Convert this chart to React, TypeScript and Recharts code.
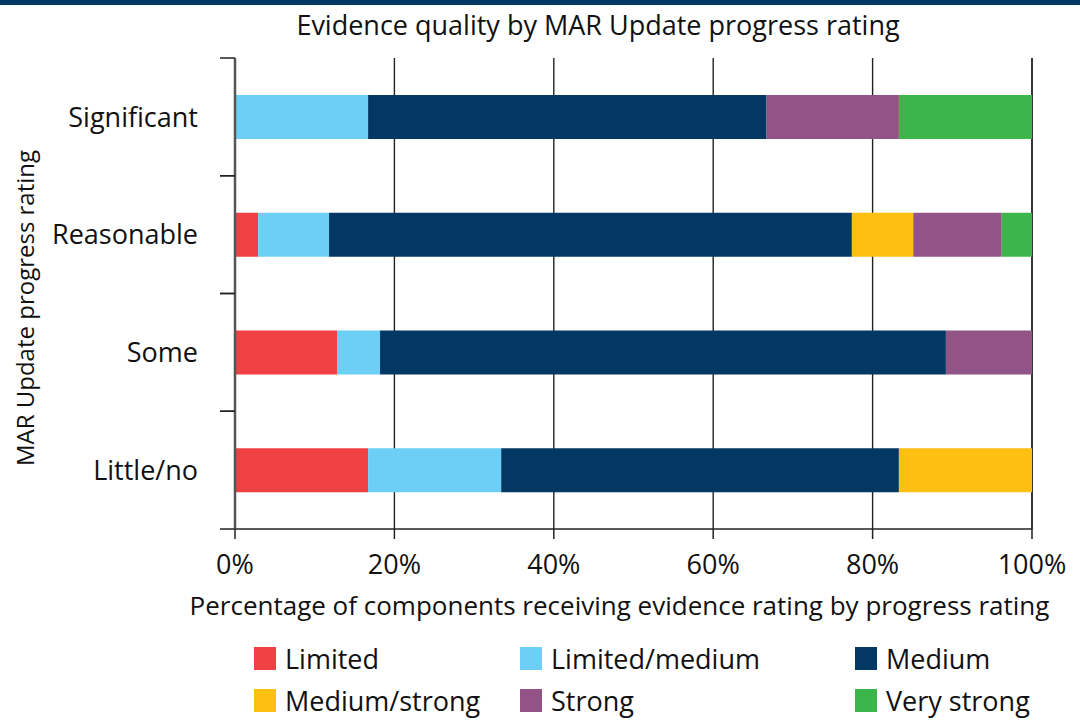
import { BarChart, Bar, XAxis, YAxis, CartesianGrid, Legend } from "recharts";

const categories = ["Significant", "Reasonable", "Some", "Little/no"];
const limited = [0, 2.9, 12.8, 16.7];
const limitedMedium = [16.7, 8.9, 5.4, 16.7];
const medium = [50.0, 65.6, 71.0, 49.9];
const mediumStrong = [0, 7.7, 0, 16.7];
const strong = [16.6, 11.1, 10.8, 0];
const veryStrong = [16.7, 3.8, 0, 0];
const xTicks = [0, 20, 40, 60, 80, 100];

const FONT = "'Open Sans', 'Noto Sans', sans-serif";

const series = [
  { key: "limited", name: "Limited", values: limited, color: "#ef4144" },
  { key: "limitedMedium", name: "Limited/medium", values: limitedMedium, color: "#6dcff6" },
  { key: "medium", name: "Medium", values: medium, color: "#043864" },
  { key: "mediumStrong", name: "Medium/strong", values: mediumStrong, color: "#fdc010" },
  { key: "strong", name: "Strong", values: strong, color: "#925487" },
  { key: "veryStrong", name: "Very strong", values: veryStrong, color: "#3cb54a" },
];

const data = categories.map((category, i) => {
  const row: Record<string, string | number> = { category };
  series.forEach((s) => (row[s.key] = s.values[i]));
  return row;
});

const TICK_SIZE = 15;
const TICK_MARGIN = 22;

// category label plus tick marks at the band edges (not the band centre)
function CategoryTick(props: any) {
  const { x, y, payload } = props;
  const half = payload?.offset ?? 0;
  const x2 = x + TICK_MARGIN + TICK_SIZE;
  const x1 = x + TICK_MARGIN;
  return (
    <g>
      <line x1={x1} x2={x2} y1={y - half} y2={y - half} stroke="#222" strokeWidth={1.5} />
      <line x1={x1} x2={x2} y1={y + half} y2={y + half} stroke="#222" strokeWidth={1.5} />
      <text x={x} y={y} dy="0.36em" textAnchor="end" fill="#111" fontSize={27} fontFamily={FONT}>
        {payload.value}
      </text>
    </g>
  );
}

function LegendGrid({ payload }: any) {
  const cols = [266, 335, 225];
  return (
    <div style={{ display: "grid", gridTemplateColumns: cols.map((c) => c + "px").join(" "), fontFamily: FONT }}>
      {(payload || []).map((p: any) => (
        <div key={p.value} style={{ display: "flex", alignItems: "center", height: 42 }}>
          <span style={{ width: 22, height: 23, background: p.color, display: "inline-block", marginRight: 9, flexShrink: 0 }} />
          <span style={{ fontSize: 27, lineHeight: "27px", color: "#111", whiteSpace: "nowrap" }}>{p.value}</span>
        </div>
      ))}
    </div>
  );
}

export default function App() {
  return (
    <div style={{ position: "absolute", left: 0, top: 0, width: 1080, height: 720, background: "#fff", overflow: "hidden", fontFamily: FONT }}>
      <div style={{ position: "absolute", left: 0, top: 0, width: 1080, height: 5, background: "#043864" }} />
      <div style={{ position: "absolute", left: 598, top: 7, transform: "translateX(-50%)", whiteSpace: "nowrap", fontSize: 27, lineHeight: "36px", color: "#111" }}>
        Evidence quality by MAR Update progress rating
      </div>
      <div style={{ position: "absolute", left: 25, top: 308, transform: "translate(-50%, -50%) rotate(-90deg)", whiteSpace: "nowrap", fontSize: 24, lineHeight: "30px", color: "#111" }}>
        MAR Update progress rating
      </div>
      <BarChart
        width={1080}
        height={720}
        data={data}
        layout="vertical"
        margin={{ top: 58, right: 48, bottom: 131, left: 20 }}
        barSize={44}
      >
        <CartesianGrid horizontal={false} stroke="#222" strokeWidth={1.4} />
        <XAxis
          type="number"
          domain={[0, 100]}
          ticks={xTicks}
          tickFormatter={(v) => v + "%"}
          height={60}
          tickSize={10}
          tickMargin={16}
          stroke="#222"
          strokeWidth={1.5}
          tick={{ fill: "#111", fontSize: 27, fontFamily: FONT }}
          label={{
            value: "Percentage of components receiving evidence rating by progress rating",
            position: "bottom",
            offset: 8,
            dx: -14,
            fill: "#111",
            fontSize: 26,
            fontFamily: FONT,
          }}
        />
        <YAxis
          type="category"
          dataKey="category"
          width={215}
          tickLine={false}
          tickSize={TICK_SIZE}
          tickMargin={TICK_MARGIN}
          stroke="#555"
          strokeWidth={2.5}
          tick={<CategoryTick />}
          interval={0}
        />
        {series.map((s) => (
          <Bar key={s.key} dataKey={s.key} name={s.name} stackId="a" fill={s.color} isAnimationActive={false} />
        ))}
        <Legend
          layout="horizontal"
          verticalAlign="middle"
          align="center"
          wrapperStyle={{ left: 254, top: 637, width: 826, height: 80, overflow: "visible" }}
          content={<LegendGrid />}
        />
      </BarChart>
    </div>
  );
}
